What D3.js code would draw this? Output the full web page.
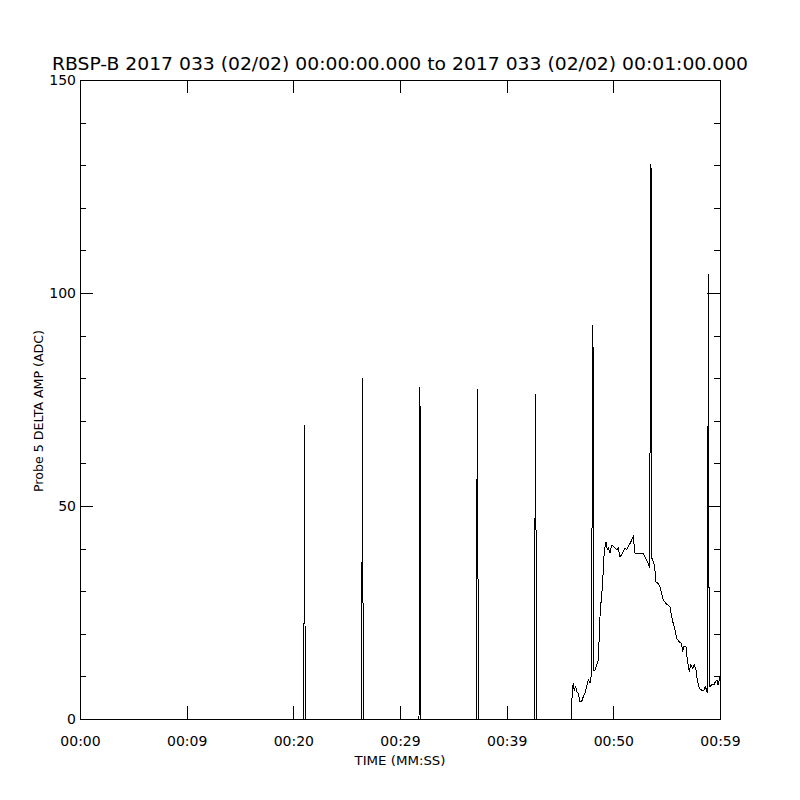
<!DOCTYPE html>
<html>
<head>
<meta charset="utf-8">
<script src="https://cdn.jsdelivr.net/npm/d3@7"></script>
<style>
  body { margin: 0; background: #fff; }
  text { font-family: "DejaVu Sans", sans-serif; fill: #000; }
</style>
</head>
<body>
<div id="chart"></div>
<script>
// seconds since 00:00:00 and probe 5 delta amplitude (ADC)
var timeSec = [
  0, 20.96,
  20.98, 21.0, 21.04, 21.08, 21.12,
  26.38, 26.42, 26.47, 26.51, 26.56,
  31.78, 31.82, 31.87, 31.91, 31.96,
  37.16, 37.2, 37.25, 37.29, 37.34,
  42.61, 42.65, 42.7, 42.74, 42.79,
  46.08, 46.15, 46.25, 46.34, 46.47, 46.56, 46.72, 46.87, 47.03, 47.18,
  47.34, 47.5, 47.65, 47.81, 47.97,
  48.01, 48.06, 48.1, 48.15,
  48.28, 48.44, 48.59, 48.75, 48.84, 48.97, 49.06, 49.15, 49.31, 49.43,
  49.53, 49.69, 49.84, 50.0, 50.31, 50.47, 50.62, 50.78, 50.93, 51.09,
  51.25, 51.4, 51.56, 51.72, 51.87, 52.03, 52.81, 52.97, 53.12, 53.28, 53.39,
  53.48, 53.53, 53.57, 53.62,
  53.81, 53.9, 54.0, 54.22, 54.37, 54.53, 54.68, 54.94, 55.15, 55.31,
  55.47, 55.62, 55.78, 55.94, 56.18, 56.4, 56.5, 56.62, 56.81, 56.93,
  57.12, 57.25, 57.44, 57.59, 57.75, 57.87, 58.06, 58.28, 58.5, 58.62,
  58.75, 58.8,
  58.85, 58.9, 58.94, 58.99,
  59.06, 59.22, 59.44, 59.55, 59.72, 59.81, 59.93, 60.0
];
var deltaAmp = [
  0, 0,
  0, 21, 69, 35, 0,
  0, 10, 80, 49, 0,
  0, 10, 78, 49, 0,
  0, 41, 77.5, 61, 0,
  0, 41, 76.3, 56, 0,
  0, 7.5, 8, 6.8, 7.6, 6.4, 6.0, 4.1, 4.1, 5.2,
  6.0, 7.6, 9.2, 8.4, 10.8,
  53, 92.5, 86.6, 11.5,
  11.5, 12.7, 13.9, 24, 27.2, 31, 35, 39.3, 41.6, 39.7,
  40.1, 39, 40.8, 40.6, 39.7, 40.1, 38.1, 38.5, 39.3, 40.1,
  39.7, 40.5, 41.2, 42, 42.8, 38.9, 38.9, 38.1, 37.3, 36.5, 35.5,
  84, 130.3, 110, 37.7,
  36.5, 35, 32.2, 31.8, 31, 29.4, 27.9, 27.1, 26.7, 26.3,
  24, 22.4, 20.9, 18.9, 18.1, 17.7, 15.8, 17, 17, 13.9,
  11.1, 12.7, 11.9, 12.7, 11.5, 9.2, 7.2, 6.8, 6.8, 7.6,
  6.8, 6.0,
  28, 104.5, 64, 7.6,
  7.6, 8, 8, 8.7, 9.2, 8, 9.2, 10
];

var xTickVals = [0, 10, 20, 30, 40, 50, 60];
var xTickLabels = ["00:00", "00:09", "00:20", "00:29", "00:39", "00:50", "00:59"];
var yMajorVals = [0, 50, 100, 150];
var yMinorVals = [10, 20, 30, 40, 60, 70, 80, 90, 110, 120, 130, 140];

var titleText = "RBSP-B 2017 033 (02/02) 00:00:00.000 to 2017 033 (02/02) 00:01:00.000";
var xTitle = "TIME (MM:SS)";
var yTitle = "Probe 5 DELTA AMP (ADC)";

var W = 800, H = 800;
var plotL = 80, plotR = 720, plotT = 80, plotB = 719;

var svg = d3.select("#chart").append("svg")
    .attr("width", W).attr("height", H)
    .style("background", "#fff");

var x = d3.scaleLinear().domain([0, 60]).range([plotL, plotR]);
var y = d3.scaleLinear().domain([0, 150]).range([plotB, plotT]);

var points = timeSec.map(function (t, i) { return [t, deltaAmp[i]]; });

var line = d3.line()
    .x(function (d) { return x(d[0]); })
    .y(function (d) { return y(d[1]); });

svg.append("path")
    .datum(points)
    .attr("d", line)
    .attr("fill", "none")
    .attr("stroke", "#000")
    .attr("stroke-width", 1)
    .attr("shape-rendering", "crispEdges");

function styleAxis(g) {
    g.selectAll("path, line")
        .attr("stroke", "#000")
        .attr("stroke-width", 1)
        .attr("shape-rendering", "crispEdges");
    g.selectAll("text")
        .attr("font-size", 14)
        .attr("font-family", "DejaVu Sans")
        .attr("fill", "#000");
}

// bottom axis with labels
svg.append("g")
    .attr("transform", "translate(0," + plotB + ")")
    .call(d3.axisBottom(x).tickValues(xTickVals)
        .tickFormat(function (d, i) { return xTickLabels[i]; })
        .tickSizeInner(-13).tickSizeOuter(0).tickPadding(17))
    .call(styleAxis);

// top axis, ticks only
svg.append("g")
    .attr("transform", "translate(0," + plotT + ")")
    .call(d3.axisTop(x).tickValues(xTickVals).tickFormat("")
        .tickSizeInner(-13).tickSizeOuter(0))
    .call(styleAxis);

// left axis: major with labels + minor
svg.append("g")
    .attr("transform", "translate(" + plotL + ",0)")
    .call(d3.axisLeft(y).tickValues(yMajorVals).tickFormat(d3.format("d"))
        .tickSizeInner(-13).tickSizeOuter(0).tickPadding(4))
    .call(styleAxis);
svg.append("g")
    .attr("transform", "translate(" + plotL + ",0)")
    .call(d3.axisLeft(y).tickValues(yMinorVals).tickFormat("")
        .tickSizeInner(-6).tickSizeOuter(0))
    .call(styleAxis);

// right axis: ticks only
svg.append("g")
    .attr("transform", "translate(" + plotR + ",0)")
    .call(d3.axisRight(y).tickValues(yMajorVals).tickFormat("")
        .tickSizeInner(-13).tickSizeOuter(0))
    .call(styleAxis);
svg.append("g")
    .attr("transform", "translate(" + plotR + ",0)")
    .call(d3.axisRight(y).tickValues(yMinorVals).tickFormat("")
        .tickSizeInner(-6).tickSizeOuter(0))
    .call(styleAxis);

// titles
svg.append("text")
    .attr("x", 400).attr("y", 70)
    .attr("text-anchor", "middle")
    .attr("font-size", 18)
    .attr("textLength", 696)
    .attr("lengthAdjust", "spacingAndGlyphs")
    .text(titleText);

svg.append("text")
    .attr("x", 400).attr("y", 765)
    .attr("text-anchor", "middle")
    .attr("font-size", 13)
    .attr("textLength", 91)
    .attr("lengthAdjust", "spacingAndGlyphs")
    .text(xTitle);

svg.append("text")
    .attr("transform", "translate(43,411) rotate(-90)")
    .attr("text-anchor", "middle")
    .attr("font-size", 13)
    .attr("textLength", 162)
    .attr("lengthAdjust", "spacingAndGlyphs")
    .text(yTitle);
</script>
</body>
</html>
